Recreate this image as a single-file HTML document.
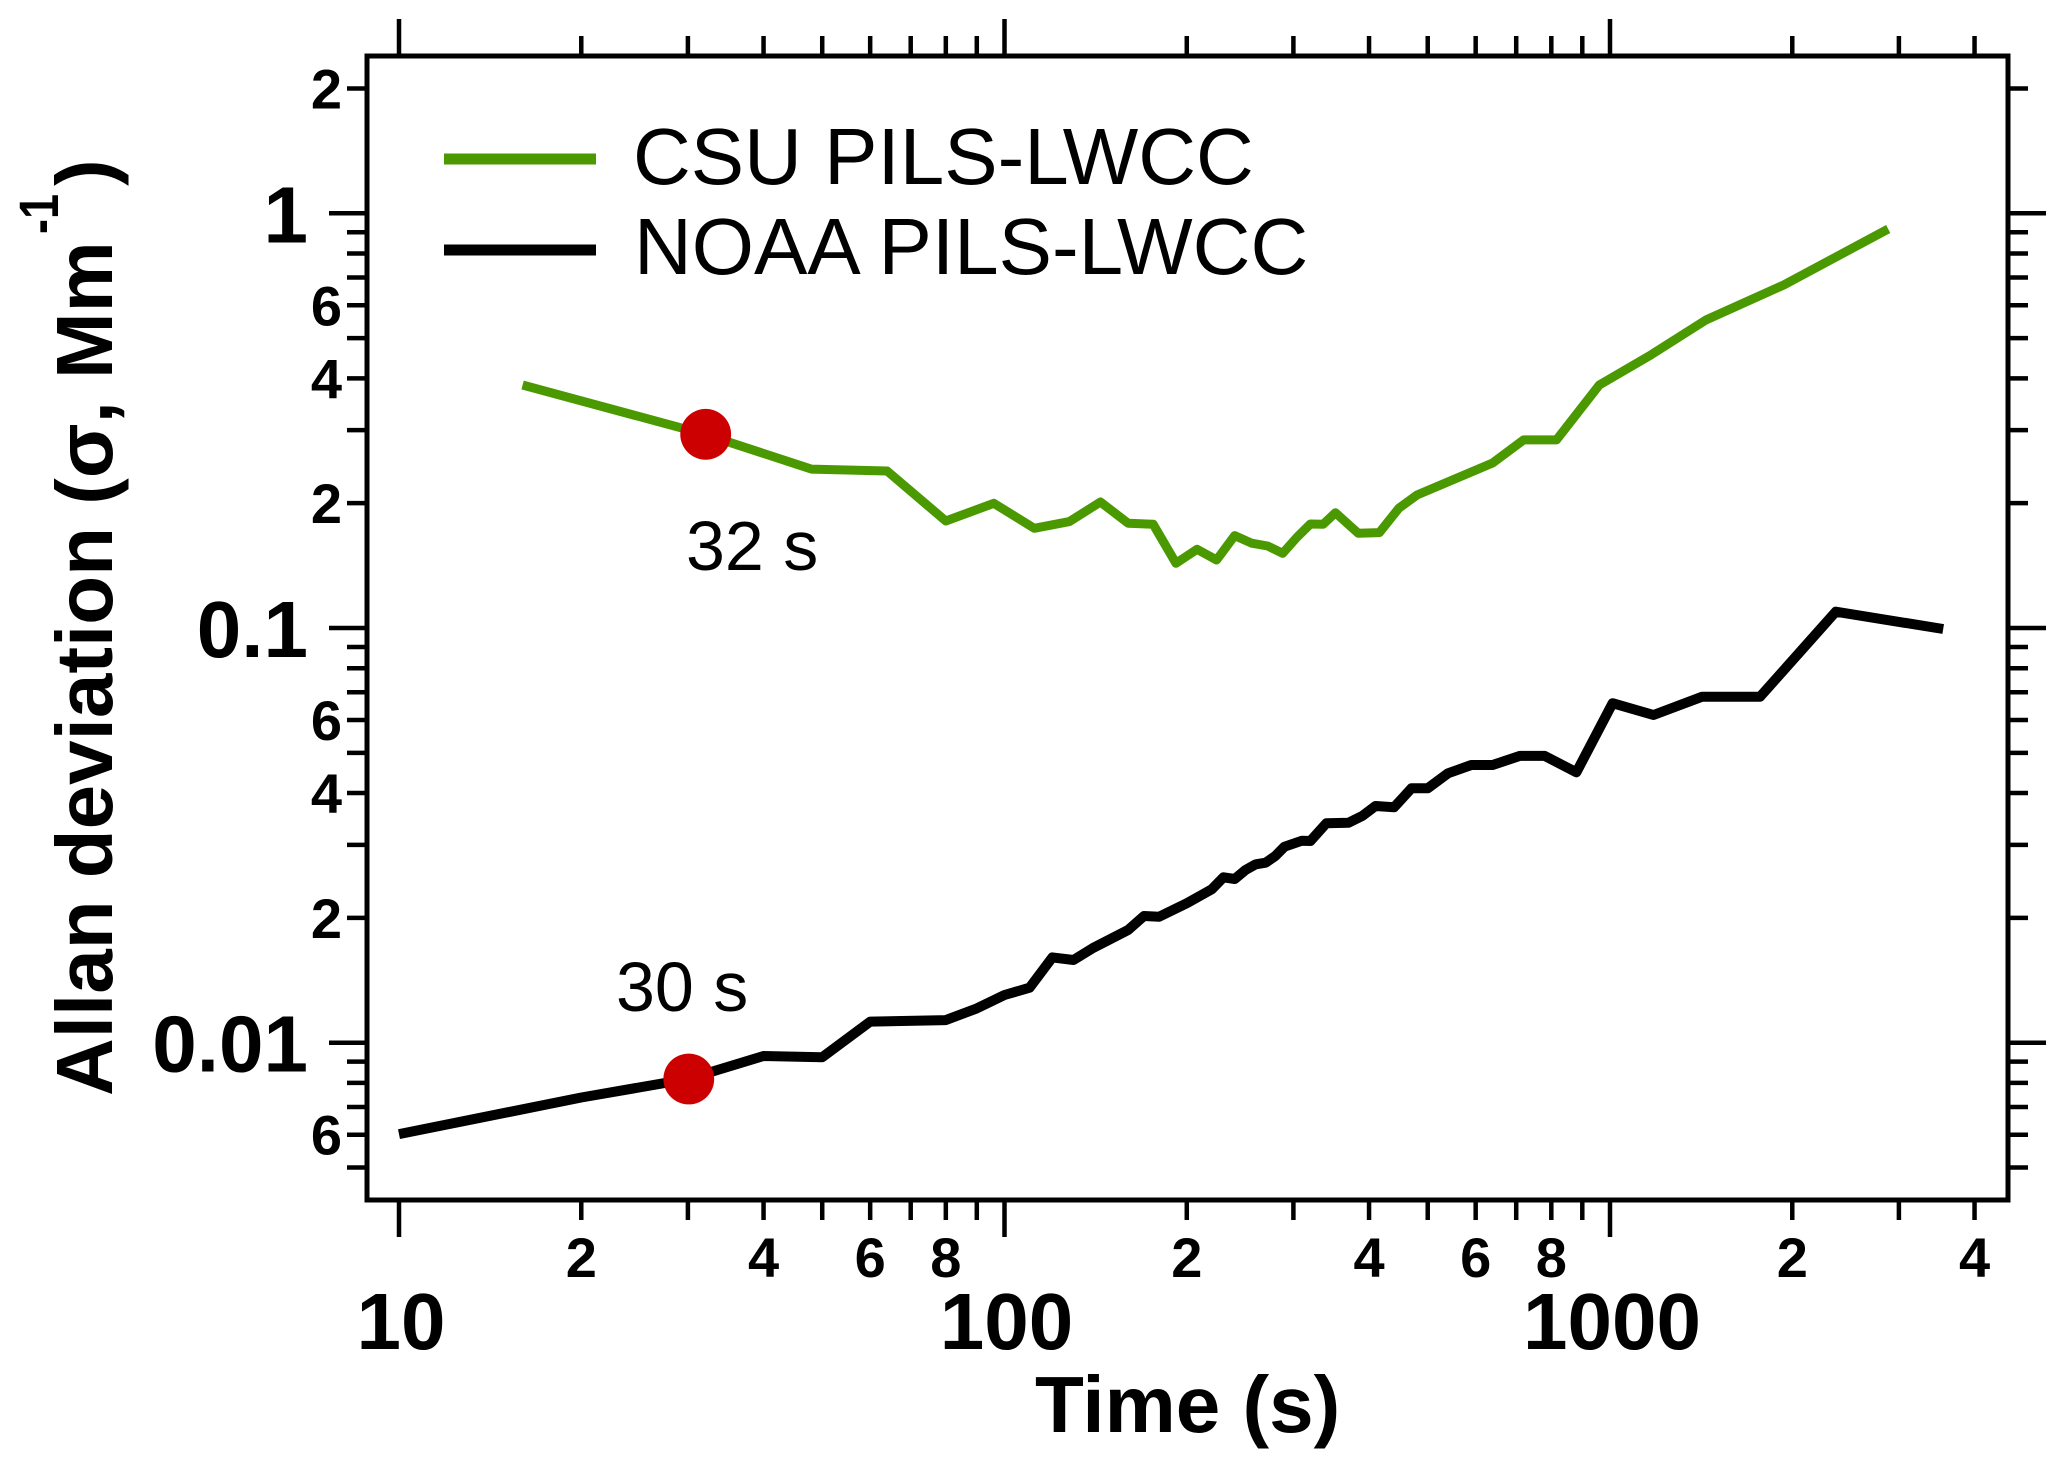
<!DOCTYPE html>
<html lang="en">
<head>
<meta charset="utf-8">
<title>Allan deviation chart</title>
<style>
html,body{margin:0;padding:0;background:#fff;}
svg{display:block;}
text{font-family:"Liberation Sans",Arial,sans-serif;fill:#000;}
.bold{font-weight:700;}
</style>
</head>
<body>
<svg id="chart" width="2067" height="1467" viewBox="0 0 2067 1467" xmlns="http://www.w3.org/2000/svg">
  <rect x="0" y="0" width="2067" height="1467" fill="#fff"/>
  <g id="ticks"></g>
  <rect x="367" y="56" width="1641" height="1144" fill="none" stroke="#000" stroke-width="5"/>
  <g id="labels"></g>
  <g id="series"></g>
  <g>
    <line x1="444" x2="596" y1="159" y2="159" stroke="#4b9900" stroke-width="11"/>
    <text x="633" y="184" font-size="80">CSU PILS-LWCC</text>
    <line x1="444" x2="596" y1="250" y2="250" stroke="#000" stroke-width="11"/>
    <text x="634" y="274" font-size="80">NOAA PILS-LWCC</text>
  </g>
  <text x="686" y="570" font-size="70">32 s</text>
  <text x="616" y="1011" font-size="70">30 s</text>
  <text class="bold" x="1035" y="1432" font-size="80">Time (s)</text>
  <text class="bold" x="112" y="1096" font-size="80" transform="rotate(-90 112 1096)">Allan deviation (σ, Mm</text>
  <text class="bold" x="58" y="234" font-size="56" textLength="40" lengthAdjust="spacingAndGlyphs" transform="rotate(-90 58 234)">-1</text>
  <text class="bold" x="112" y="186" font-size="80" transform="rotate(-90 112 186)">)</text>
</svg>
<script>
const csuTime = [16,32,48,64,80,96,112,128,144,160,176,192,208,224,240,256,272,288,304,320,336,352,384,416,448,480,640,720,816,960,1168,1440,1936,2880];
const csuAllan = [0.3855,0.2931,0.2417,0.2391,0.1811,0.1999,0.1739,0.1805,0.2013,0.1789,0.1779,0.1432,0.1548,0.1459,0.1670,0.1601,0.1577,0.1514,0.1655,0.1781,0.1779,0.1897,0.1692,0.1698,0.1944,0.2093,0.2500,0.2841,0.2841,0.3855,0.4554,0.5530,0.6717,0.9165];
const noaaTime = [10,20,30,40,50,60,80,90,100,110,120,130,140,160,170,180,200,220,230,240,250,260,270,280,290,310,320,340,370,390,410,440,470,500,540,590,640,710,780,880,1010,1180,1420,1770,2360,3550];
const noaaAllan = [0.006021,0.007375,0.008175,0.009288,0.009222,0.01124,0.01134,0.01210,0.01303,0.01357,0.01606,0.01583,0.01692,0.01870,0.02021,0.02013,0.02168,0.02344,0.02505,0.02482,0.02609,0.02693,0.02716,0.02820,0.02969,0.03069,0.03064,0.03381,0.03392,0.03522,0.03722,0.03695,0.04107,0.04107,0.04463,0.04674,0.04674,0.04915,0.04915,0.04488,0.06585,0.06170,0.06830,0.06830,0.1095,0.09945];
const markerTime = [32.1,30.1];
const markerAllan = [0.2931,0.008175];
const xMajorTicks = [10,100,1000];
const xMajorLabels = ['10','100','1000'];
const xMinorTicks = [20,30,40,50,60,70,80,90,200,300,400,500,600,700,800,900,2000,3000,4000];
const xMinorLabelValues = [20,40,60,80,200,400,600,800,2000,4000];
const xMinorLabels = ['2','4','6','8','2','4','6','8','2','4'];
const yMajorTicks = [1,0.1,0.01];
const yMajorLabels = ['1','0.1','0.01'];
const yMinorTicks = [2,0.9,0.8,0.7,0.6,0.5,0.4,0.3,0.2,0.09,0.08,0.07,0.06,0.05,0.04,0.03,0.02,0.009,0.008,0.007,0.006,0.005];
const yMinorLabelValues = [2,0.6,0.4,0.2,0.06,0.04,0.02,0.006];
const yMinorLabels = ['2','6','4','2','6','4','2','6'];

const SVG_NS = 'http://www.w3.org/2000/svg';
function xScale(t){ return 399 + 605.5 * (Math.log10(t) - 1); }
function yScale(v){ return 213.3 - 414.7 * Math.log10(v); }
const tickLayer = document.getElementById('ticks');
const labelLayer = document.getElementById('labels');
const seriesLayer = document.getElementById('series');

function drawLine(x1, y1, x2, y2){
  const el = document.createElementNS(SVG_NS, 'line');
  el.setAttribute('x1', x1);
  el.setAttribute('y1', y1);
  el.setAttribute('x2', x2);
  el.setAttribute('y2', y2);
  el.setAttribute('stroke', '#000');
  el.setAttribute('stroke-width', '4.5');
  
  
  tickLayer.appendChild(el);
}
function drawLabel(str, x, y, size, anchor){
  const el = document.createElementNS(SVG_NS, 'text');
  el.setAttribute('x', x);
  el.setAttribute('y', y);
  el.setAttribute('font-size', size);
  el.setAttribute('text-anchor', anchor);
  el.setAttribute('class', 'bold');
  
  
  el.textContent = str;
  labelLayer.appendChild(el);
}
function drawSeries(times, values, colour, width, name){
  const el = document.createElementNS(SVG_NS, 'polyline');
  const pts = times.map(function(t, i){ return xScale(t).toFixed(1) + ',' + yScale(values[i]).toFixed(1); });
  el.setAttribute('points', pts.join(' '));
  el.setAttribute('fill', 'none');
  el.setAttribute('stroke', colour);
  el.setAttribute('stroke-width', width);
  el.setAttribute('stroke-linejoin', 'round');
  
  
  seriesLayer.appendChild(el);
}

xMajorTicks.forEach(function(t){
  drawLine(xScale(t), 19, xScale(t), 56);
  drawLine(xScale(t), 1200, xScale(t), 1237);
});
xMinorTicks.forEach(function(t){
  drawLine(xScale(t), 36, xScale(t), 56);
  drawLine(xScale(t), 1200, xScale(t), 1220);
});
yMajorTicks.forEach(function(v){
  drawLine(329, yScale(v), 367, yScale(v));
  drawLine(2008, yScale(v), 2046, yScale(v));
});
yMinorTicks.forEach(function(v){
  drawLine(347, yScale(v), 367, yScale(v));
  drawLine(2008, yScale(v), 2028, yScale(v));
});
xMajorTicks.forEach(function(t, i){
  drawLabel(xMajorLabels[i], xScale(t) + 2, 1349, 80, 'middle');
});
xMinorLabelValues.forEach(function(t, i){
  drawLabel(xMinorLabels[i], xScale(t), 1277, 56, 'middle');
});
yMajorTicks.forEach(function(v, i){
  drawLabel(yMajorLabels[i], 308, yScale(v) + 29, 80, 'end');
});
yMinorLabelValues.forEach(function(v, i){
  drawLabel(yMinorLabels[i], 342, yScale(v) + 20, 56, 'end');
});

drawSeries(csuTime, csuAllan, '#4b9900', '9', 'series-csu-pils-lwcc');
drawSeries(noaaTime, noaaAllan, '#000', '10', 'series-noaa-pils-lwcc');

markerTime.forEach(function(t, i){
  const el = document.createElementNS(SVG_NS, 'circle');
  el.setAttribute('cx', xScale(t));
  el.setAttribute('cy', yScale(markerAllan[i]));
  el.setAttribute('r', '25.4');
  el.setAttribute('fill', '#cc0000');
  
  
  seriesLayer.appendChild(el);
});
</script>
</body>
</html>
